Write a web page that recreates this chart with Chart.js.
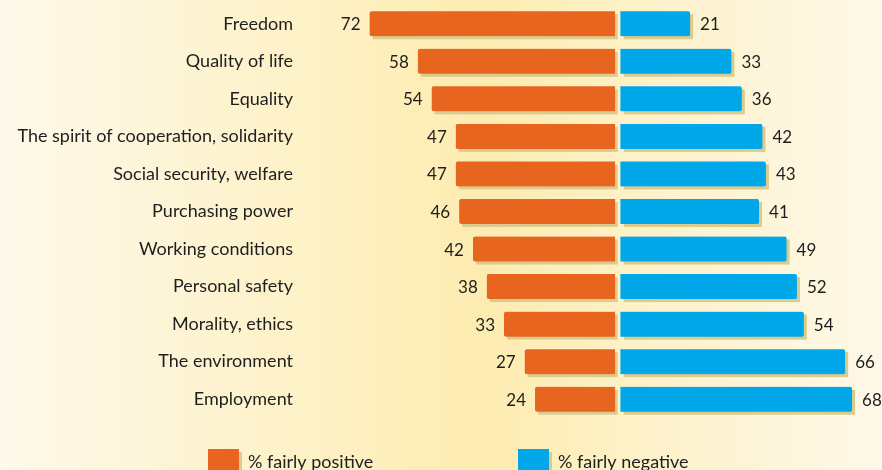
<!DOCTYPE html>
<html>
<head>
<meta charset="utf-8">
<script src="https://cdn.jsdelivr.net/npm/chart.js@4.4.1/dist/chart.umd.min.js"></script>
<style>
  html, body { margin: 0; padding: 0; }
  body { width: 882px; height: 470px; overflow: hidden;
         background: linear-gradient(to right, #fef9ea 0%, #fdf1c6 35%, #fdecb0 55%, #fdf2cc 75%, #fef8e8 100%); }
  canvas { display: block; }
</style>
</head>
<body>
<canvas id="chart" width="882" height="470"></canvas>
<script>
// data
const categories = [
  'Freedom', 'Quality of life', 'Equality', 'The spirit of cooperation, solidarity',
  'Social security, welfare', 'Purchasing power', 'Working conditions',
  'Personal safety', 'Morality, ethics', 'The environment', 'Employment'
];
const fairlyPositive = [72, 58, 54, 47, 47, 46, 42, 38, 33, 27, 24];
const fairlyNegative = [21, 33, 36, 42, 43, 41, 49, 52, 54, 66, 68];
const seriesLabels = ['% fairly positive', '% fairly negative'];

const ORANGE = '#e8651f';
const BLUE = '#00a7e9';
const SHADOW = '#dccb8e';
const FONT = "Lato, sans-serif";
const GAP = 3;

// bar shadows, value labels and the custom legend
const decorPlugin = {
  id: 'decor',
  beforeDatasetsDraw(chart) {
    const ctx = chart.ctx;
    ctx.save();
    ctx.fillStyle = SHADOW;
    chart.getDatasetMeta(0).data.forEach(bar => {
      const w = bar.base - bar.x - GAP;
      ctx.fillRect(bar.x + 3, bar.y - bar.height / 2 + 3, w, bar.height);
    });
    chart.getDatasetMeta(1).data.forEach(bar => {
      const w = bar.x - bar.base - GAP;
      ctx.fillRect(bar.base + GAP + 3, bar.y - bar.height / 2 + 3, w, bar.height);
    });
    ctx.restore();
  },
  afterDatasetsDraw(chart) {
    const ctx = chart.ctx;
    ctx.save();
    ctx.font = '17px ' + FONT;
    ctx.fillStyle = '#1e1e1e';
    ctx.textBaseline = 'middle';
    chart.getDatasetMeta(0).data.forEach((bar, i) => {
      ctx.textAlign = 'right';
      ctx.fillText(String(fairlyPositive[i]), bar.x - 9, bar.y + 1);
    });
    chart.getDatasetMeta(1).data.forEach((bar, i) => {
      ctx.textAlign = 'left';
      ctx.fillText(String(fairlyNegative[i]), bar.x + 10, bar.y + 1);
    });
    ctx.restore();
  },
  afterDraw(chart) {
    const ctx = chart.ctx;
    const items = [
      { x: 208, color: ORANGE, text: seriesLabels[0] },
      { x: 518, color: BLUE, text: seriesLabels[1] }
    ];
    ctx.save();
    items.forEach(it => {
      ctx.fillStyle = SHADOW;
      ctx.fillRect(it.x + 3, 452, 31, 24);
      ctx.fillStyle = it.color;
      ctx.fillRect(it.x, 449, 31, 24);
      ctx.fillStyle = '#1e1e1e';
      ctx.font = '18px ' + FONT;
      ctx.textAlign = 'left';
      ctx.textBaseline = 'middle';
      ctx.fillText(it.text, it.x + 40, 462);
    });
    ctx.restore();
  }
};

new Chart(document.getElementById('chart'), {
  type: 'bar',
  data: {
    labels: categories,
    datasets: [
      {
        label: seriesLabels[0],
        data: fairlyPositive.map(v => [-v, 0]),
        backgroundColor: ORANGE,
        borderColor: 'rgba(0,0,0,0)',
        borderWidth: { left: 0, right: GAP, top: 0, bottom: 0 },
        borderSkipped: false,
        borderRadius: 2,
        barThickness: 25,
        grouped: false
      },
      {
        label: seriesLabels[1],
        data: fairlyNegative.map(v => [0, v]),
        backgroundColor: BLUE,
        borderColor: 'rgba(0,0,0,0)',
        borderWidth: { left: GAP, right: 0, top: 0, bottom: 0 },
        borderSkipped: false,
        borderRadius: 2,
        barThickness: 25,
        grouped: false
      }
    ]
  },
  options: {
    indexAxis: 'y',
    responsive: false,
    animation: false,
    layout: { padding: { top: 5, bottom: 52, left: 0, right: 23 } },
    plugins: { legend: { display: false }, tooltip: { enabled: false } },
    scales: {
      x: { display: false, min: -80, max: 70 },
      y: {
        grid: { display: false, drawTicks: false },
        border: { display: false },
        afterFit(scale) {
          scale.width = 342;
          scale.paddingTop = 0;
          scale.paddingBottom = 0;
        },
        ticks: {
          padding: 49,
          color: '#1e1e1e',
          font: { family: FONT, size: 18 }
        }
      }
    }
  },
  plugins: [decorPlugin]
});
</script>
</body>
</html>
